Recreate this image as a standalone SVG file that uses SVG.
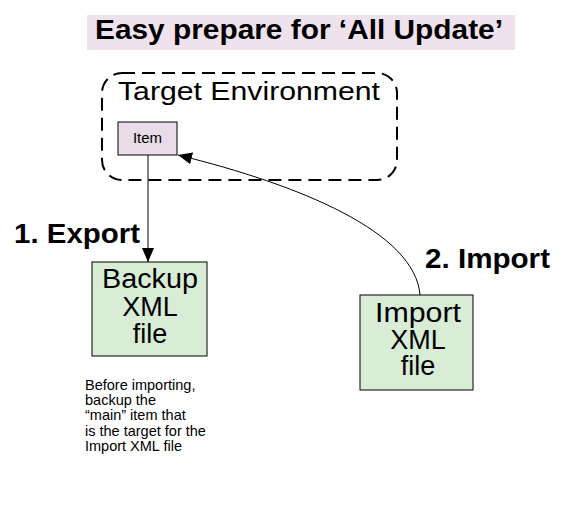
<svg xmlns="http://www.w3.org/2000/svg" width="561" height="530" viewBox="0 0 561 530">
<defs>
<style>
text{font-family:"Liberation Sans",Arial,sans-serif;fill:#000}
.box{stroke:#000;stroke-width:1}
.green{fill:#d8ecd6}
.pink{fill:#e8dce8}
.big{font-size:27px;text-anchor:middle}
.bold{font-weight:bold}
.note{font-size:14.5px}
.conn{fill:none;stroke:#000;stroke-width:1}
</style>
<marker id="arr" viewBox="0 0 14 12" refX="14" refY="6" markerWidth="14" markerHeight="12" markerUnits="userSpaceOnUse" orient="auto">
<path d="M0,0 L14,6 L0,12 Z" fill="#000"/>
</marker>
</defs>
<rect width="561" height="530" fill="#fff"/>
<g id="title">
<rect x="87" y="15" width="428" height="35" fill="#eee2ec"/>
<text x="95" y="39" font-size="28" class="bold" textLength="408" lengthAdjust="spacingAndGlyphs">Easy prepare for ‘All Update’</text>
</g>
<g id="target-environment">
<rect x="102" y="73" width="295" height="107" rx="20" ry="20" fill="none" stroke="#000" stroke-width="2" stroke-dasharray="13,7"/>
<text x="118" y="100" font-size="26" textLength="262" lengthAdjust="spacingAndGlyphs">Target Environment</text>
</g>
<g id="item">
<rect class="box pink" x="118" y="122" width="59" height="33"/>
<text x="147.5" y="143" font-size="15" text-anchor="middle">Item</text>
</g>
<g id="backup">
<rect class="box green" x="92" y="262" width="115" height="94"/>
<text class="big" x="150" y="288" textLength="96" lengthAdjust="spacingAndGlyphs">Backup</text>
<text class="big" x="150" y="316">XML</text>
<text class="big" x="150" y="343">file</text>
</g>
<g id="import">
<rect class="box green" x="360" y="295" width="113" height="95"/>
<text class="big" x="418" y="322" textLength="86" lengthAdjust="spacingAndGlyphs">Import</text>
<text class="big" x="418" y="349">XML</text>
<text class="big" x="418" y="375">file</text>
</g>
<g id="connectors">
<path class="conn" d="M148,155 L148,262" marker-end="url(#arr)"/>
<path class="conn" d="M420,295 C415,232 300,185 178,155" marker-end="url(#arr)"/>
</g>
<g id="labels">
<text x="14" y="243" font-size="28" class="bold" textLength="126" lengthAdjust="spacingAndGlyphs">1. Export</text>
<text x="425" y="268" font-size="28" class="bold" textLength="125" lengthAdjust="spacingAndGlyphs">2. Import</text>
</g>
<g id="note">
<text class="note" x="85" y="390">Before importing,</text>
<text class="note" x="85" y="405">backup the</text>
<text class="note" x="85" y="420">“main” item that</text>
<text class="note" x="85" y="436">is the target for the</text>
<text class="note" x="85" y="451">Import XML file</text>
</g>
</svg>
